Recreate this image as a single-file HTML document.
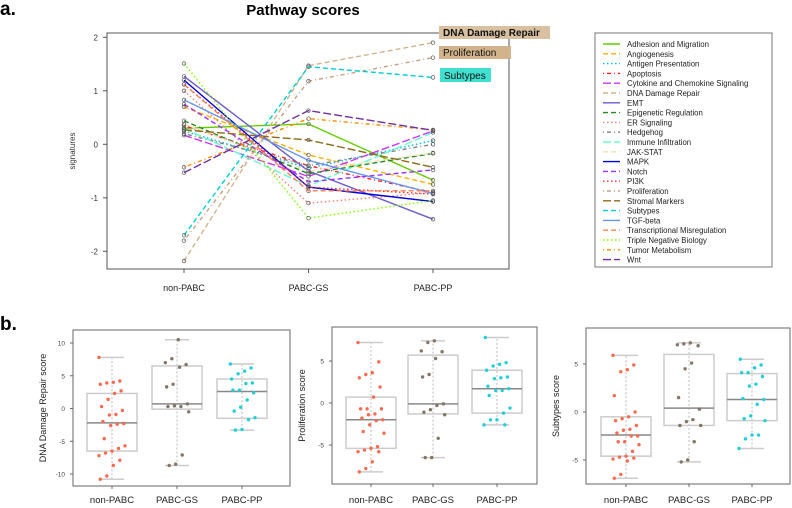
<!DOCTYPE html>
<html><head><meta charset="utf-8"><style>
html,body{margin:0;padding:0;background:#fff;}
svg{display:block;font-family:"Liberation Sans",sans-serif;}
</style></head><body>
<svg id="s" width="792" height="508" viewBox="0 0 792 508">
<text x="0" y="15" font-size="19" font-weight="bold">a.</text>
<text x="0" y="330" font-size="19" font-weight="bold">b.</text>
<text x="303" y="15" font-size="15" font-weight="bold" text-anchor="middle">Pathway scores</text>
<g id="ga"></g>
<g id="gb"></g>
</svg>
<script>
const groups=["non-PABC","PABC-GS","PABC-PP"];
const pathNames=["Adhesion and Migration","Angiogenesis","Antigen Presentation","Apoptosis","Cytokine and Chemokine Signaling","DNA Damage Repair","EMT","Epigenetic Regulation","ER Signaling","Hedgehog","Immune Infiltration","JAK-STAT","MAPK","Notch","PI3K","Proliferation","Stromal Markers","Subtypes","TGF-beta","Transcriptional Misregulation","Triple Negative Biology","Tumor Metabolism","Wnt"];
const pathNon=[0.3,0.7,0.25,0.35,0.17,-2.18,1.27,0.44,1.0,0.2,0.3,0.38,1.2,0.75,1.12,-1.8,0.27,-1.7,0.83,1.12,1.51,-0.43,-0.53];
const pathGS=[0.38,-0.2,-0.45,-0.4,-0.6,1.47,-0.5,-0.55,-1.1,-0.4,-0.78,-0.5,-0.8,-0.7,-0.8,1.18,0.08,1.45,-0.3,-0.87,-1.38,0.48,0.63];
const pathPP=[-0.67,-0.75,0.07,-0.9,0.25,1.9,-1.4,-0.17,-0.9,0.0,0.22,-0.16,-1.07,-0.48,-0.93,1.62,-0.43,1.25,-0.92,-0.87,-1.05,0.27,0.26];
const yTicksA=[2,1,0,-1,-2];
const colors=["#66cc00","#ffb000","#00bfff","#ff2020","#cc33ff","#d2b48c","#6a5acd","#228b22","#fa8072","#808080","#66ffcc","#f5deb3","#0000dd","#9933ff","#ff3030","#c8a080","#8b6914","#00ced1","#6495ed","#ff7f50","#7cfc00","#ff8c00","#7030a0"];
const dashes=["","5,3","1.5,2.5","1,3,4,3","8,3","5,3","","5,3","1.5,2.5","1,3,4,3","8,3","5,3","","5,3","1.5,2.5","1,3,4,3","8,3","5,3","","5,3","1.5,2.5","1,3,4,3","8,3"];
const NS="http://www.w3.org/2000/svg";
function mk(p,t,a){const e=document.createElementNS(NS,t);for(const k in a)e.setAttribute(k,a[k]);p.appendChild(e);return e;}
// Panel a
const ga=document.getElementById('ga');
const ax={l:107,r:509,t:33,b:269};
const xa=i=>184+i*124.5, ya=v=>144.3-v*53.5;
const fr=mk(ga,'rect',{x:ax.l,y:ax.t,width:ax.r-ax.l,height:ax.b-ax.t,fill:'none',stroke:'#555','stroke-width':1});

yTicksA.forEach(v=>{mk(ga,'line',{x1:ax.l-4,x2:ax.l,y1:ya(v),y2:ya(v),stroke:'#555'});
 const t=mk(ga,'text',{x:ax.l-9,y:ya(v)+3,'font-size':8,'text-anchor':'end',fill:'#333'});t.textContent=v;
 });
groups.forEach((g,i)=>{mk(ga,'line',{x1:xa(i),x2:xa(i),y1:ax.b,y2:ax.b+4,stroke:'#555'});
 const t=mk(ga,'text',{x:xa(i),y:291,'font-size':9,'text-anchor':'middle',fill:'#222'});t.textContent=g;
 });
const yl=mk(ga,'text',{x:75,y:151,'font-size':8,'text-anchor':'middle',fill:'#333',transform:'rotate(-90 75 151)'});yl.textContent='signatures';

pathNames.forEach((n,k)=>{const vals=[pathNon[k],pathGS[k],pathPP[k]];
 const pl=mk(ga,'polyline',{points:vals.map((v,i)=>xa(i)+','+ya(v)).join(' '),fill:'none',stroke:colors[k],'stroke-width':1.4,'stroke-dasharray':dashes[k]});
 
 vals.forEach((v,i)=>{const c=mk(ga,'circle',{cx:xa(i),cy:ya(v),r:1.8,fill:'none',stroke:'#555','stroke-width':0.7});
  });});
// callout labels
const callouts=[["DNA Damage Repair",439,26,111,13,"#d8c0a0",true],["Proliferation",439,46,72,13,"#d2b48c",false],["Subtypes",440,68,51,14,"#40e0d0",false]];
callouts.forEach(c=>{const r=mk(ga,'rect',{x:c[1],y:c[2],width:c[3],height:c[4],fill:c[5]});
 
 const t=mk(ga,'text',{x:c[1]+4,y:c[2]+c[4]-3,'font-size':10,'font-weight':c[6]?'bold':'normal',fill:'#111'});t.textContent=c[0];
 });
// legend
const lg=mk(ga,'g',{});
mk(lg,'rect',{x:595,y:33,width:177,height:234,fill:'#fff',stroke:'#555','stroke-width':0.8});
pathNames.forEach((n,k)=>{const y=44+k*9.8;
 const l=mk(lg,'line',{x1:603,x2:620,y1:y,y2:y,stroke:colors[k],'stroke-width':1.4,'stroke-dasharray':dashes[k]});
 const t=mk(lg,'text',{x:627,y:y+3,'font-size':7.8,fill:'#222'});t.textContent=n;
 });
// Panel b
const dnaNon=[7.8,4.2,4.0,3.9,3.7,2.7,2.3,1.4,0.3,-0.3,-0.9,-1.0,-2.0,-2.3,-2.4,-2.6,-4.6,-5.7,-6.1,-6.5,-6.8,-7.2,-7.9,-8.7,-10.3,-10.8];
const dnaGS=[10.5,7.6,7.0,6.7,6.3,3.7,3.3,0.7,0.3,0.4,0.3,-0.5,-7.1,-8.5,-8.7];
const dnaPP=[6.8,6.2,5.7,5.3,4.5,3.9,3.8,2.8,2.8,2.4,1.3,0.2,-0.4,-1.4,-1.7,-3.2,-3.3];
const proNon=[7.2,4.9,3.6,3.4,3.0,1.9,0.7,-0.7,-0.7,-0.7,-1.3,-1.4,-1.8,-2.0,-2.1,-2.6,-3.4,-3.6,-5.2,-5.4,-5.6,-5.8,-5.8,-7.0,-7.8,-8.2];
const proGS=[7.4,7.2,6.2,6.1,5.3,3.4,3.1,-0.1,-0.3,-0.8,-1.1,-1.4,-4.2,-6.5,-6.5];
const proPP=[7.8,4.8,4.6,4.4,3.9,3.1,3.0,2.9,2.0,1.7,1.5,1.5,0.9,-0.6,-1.2,-2.0,-2.0,-2.6,-2.6];
const subNon=[5.9,4.9,4.4,4.2,1.7,0,-0.5,-0.7,-0.9,-1.4,-1.8,-1.9,-2.2,-2.5,-2.5,-3.1,-3.1,-3.4,-4.1,-4.6,-4.7,-4.9,-4.8,-5.1,-6.5,-6.9];
const subGS=[7.2,7.1,7.0,6.9,5.1,4.5,1.5,0.3,-0.8,-1.0,-1.4,-1.4,-3.1,-5.0,-5.2];
const subPP=[5.5,4.9,4.6,4.1,4.1,3.7,2.9,2.7,1.4,1.3,0.8,-0.4,-0.7,-0.9,-2.4,-2.4,-2.8,-3.8];
// box stats: [low whisker, Q1, median, Q3, high whisker]
const dnaBox=[[-10.8,-6.5,-2.2,2.3,7.8],[-8.7,-0.1,0.7,6.5,10.5],[-3.3,-1.5,2.6,4.5,6.8]];
const proBox=[[-8.2,-5.4,-2.0,0.7,7.2],[-6.5,-1.3,-0.1,5.7,7.4],[-2.6,-1.2,1.7,3.9,7.8]];
const subBox=[[-6.9,-4.6,-2.4,-0.5,5.9],[-5.2,-1.4,0.4,6.0,7.2],[-3.8,-0.9,1.3,4.0,5.5]];
const ticksDna=[10,5,0,-5,-10], ticksPro=[5,0,-5], ticksSub=[5,0,-5];
const ptCols=["#fa6a4e","#857462","#1ed0d6"];
const panels=[
 {name:'dna-damage-repair-boxplot',title:'DNA Damage Repair score',l:73,r:290,t:330,b:486,z:408.5,k:6.55,gx:[112,177,242],pts:[dnaNon,dnaGS,dnaPP],box:dnaBox,ticks:ticksDna},
 {name:'proliferation-boxplot',title:'Proliferation score',l:332,r:537,t:327,b:484,z:403,k:8.4,gx:[371,433,497],pts:[proNon,proGS,proPP],box:proBox,ticks:ticksPro},
 {name:'subtypes-boxplot',title:'Subtypes score',l:586,r:790,t:328,b:484,z:412,k:9.6,gx:[626,689,752],pts:[subNon,subGS,subPP],box:subBox,ticks:ticksSub}];
const gb=document.getElementById('gb');
panels.forEach(P=>{const g=mk(gb,'g',{});
 const y=v=>P.z-v*P.k;
 mk(g,'rect',{x:P.l,y:P.t,width:P.r-P.l,height:P.b-P.t,fill:'none',stroke:'#666','stroke-width':1});
 P.ticks.forEach(v=>{mk(g,'line',{x1:P.l-3,x2:P.l,y1:y(v),y2:y(v),stroke:'#666'});
  const t=mk(g,'text',{x:P.l-8,y:y(v)+2.5,'font-size':6.5,'text-anchor':'end',fill:'#444'});t.textContent=v;
  });
 const yt=(P.t+P.b)/2, xt=P.l-27;
 const tt=mk(g,'text',{x:xt,y:yt,'font-size':9,'text-anchor':'middle',fill:'#222',transform:`rotate(-90 ${xt} ${yt})`});tt.textContent=P.title;
 
 groups.forEach((gn,i)=>{const cx=P.gx[i],bx=P.box[i],w=25;
  mk(g,'line',{x1:cx,x2:P.gx[i],y1:P.b,y2:P.b+3,stroke:'#666'});
  const lt=mk(g,'text',{x:cx,y:503,'font-size':9.5,'text-anchor':'middle',fill:'#222'});lt.textContent=gn;
  
  mk(g,'line',{x1:cx,x2:cx,y1:y(bx[0]),y2:y(bx[4]),stroke:'#aaa','stroke-dasharray':'2,2','stroke-width':0.8});
  mk(g,'line',{x1:cx-12,x2:cx+12,y1:y(bx[0]),y2:y(bx[0]),stroke:'#ccc','stroke-width':1.5});
  mk(g,'line',{x1:cx-12,x2:cx+12,y1:y(bx[4]),y2:y(bx[4]),stroke:'#ccc','stroke-width':1.5});
  const b=mk(g,'rect',{x:cx-w,y:y(bx[3]),width:2*w,height:y(bx[1])-y(bx[3]),fill:'none',stroke:'#ccc','stroke-width':1.5});
  
  mk(g,'line',{x1:cx-w,x2:cx+w,y1:y(bx[2]),y2:y(bx[2]),stroke:'#888','stroke-width':1.5});
  P.pts[i].forEach((v,j)=>{const jit=((j*37+i*11)%21-10)*1.3;
   const c=mk(g,'circle',{cx:cx+jit,cy:y(v),r:1.7,fill:ptCols[i]});
   });});});
</script>
</body></html>
